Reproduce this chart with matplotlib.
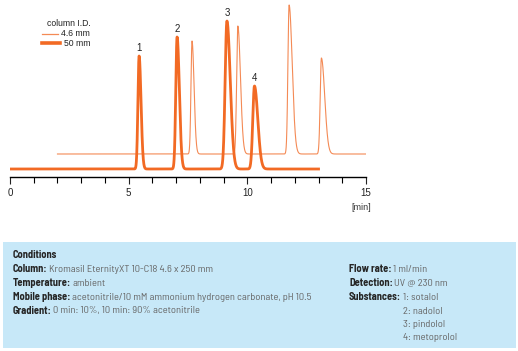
import matplotlib.pyplot as plt
import numpy as np
from matplotlib.lines import Line2D

# Chromatogram data (time in min, heights in arbitrary detector units)
# 50 mm column I.D. trace
t50_start, t50_end = 0.0, 13.0
base50 = 8
rt50 = [5.44, 7.04, 9.14, 10.30]
h50 = [113, 132, 148, 83]
sl50 = [0.050, 0.055, 0.075, 0.070]
sr50 = [0.080, 0.095, 0.140, 0.140]
labels50 = ["1", "2", "3", "4"]

# 4.6 mm column I.D. trace
t46_start, t46_end = 2.0, 15.0
base46 = 23
rt46 = [7.67, 9.60, 11.76, 13.12]
h46 = [113, 128, 149, 96]
sl46 = [0.045, 0.050, 0.050, 0.050]
sr46 = [0.085, 0.110, 0.130, 0.140]

xticks_major = [0, 5, 10, 15]

cond_left = [("Column:", "Kromasil EternityXT 10-C18 4.6 x 250 mm"),
             ("Temperature:", "ambient"),
             ("Mobile phase:", "acetonitrile/10 mM ammonium hydrogen carbonate, pH 10.5"),
             ("Gradient:", "0 min: 10%, 10 min: 90% acetonitrile")]
cond_right = [("Flow rate:", "1 ml/min"),
              ("Detection:", "UV @ 230 nm"),
              ("Substances:", "1: sotalol")]
substances_more = ["2: nadolol", "3: pindolol", "4: metoprolol"]

plt.rcParams['font.family'] = ['Liberation Sans', 'DejaVu Sans']
box_font = ['Barlow Semi Condensed', 'DejaVu Sans']

W, H = 518, 351
c_thick = "#f26a24"
c_thin = "#f48a55"


def trace(t0, t1, base, rts, hs, sls, srs):
    t = np.linspace(t0, t1, 3000)
    y = np.full_like(t, float(base))
    for rt, h, sl, sr in zip(rts, hs, sls, srs):
        s = np.where(t < rt, sl, sr)
        y += h * np.exp(-0.5 * ((t - rt) / s) ** 2)
    return t, y


def fx(px):
    return px / W


def fy(py):
    return 1 - py / H


fig = plt.figure(figsize=(W / 100, H / 100), dpi=100)
ax = fig.add_axes([fx(10), fy(177), fx(366) - fx(10), fy(3) - fy(177)])

t, y = trace(t46_start, t46_end, base46, rt46, h46, sl46, sr46)
ax.plot(t, y, color=c_thin, lw=0.8, zorder=2)
t, y = trace(t50_start, t50_end, base50, rt50, h50, sl50, sr50)
ax.plot(t, y, color=c_thick, lw=2.0, zorder=3)

for rt, h, lab in zip(rt50, h50, labels50):
    ax.text(rt, base50 + h + 3, lab, ha="center", va="bottom", fontsize=7, color="#222222")

ax.set_xlim(0, 15)
ax.set_ylim(0, 174)
for s in ["top", "right", "left"]:
    ax.spines[s].set_visible(False)
ax.spines["bottom"].set_linewidth(1.0)
ax.set_yticks([])
ax.set_xticks(xticks_major)
ax.set_xticks(np.arange(0, 16, 1), minor=True)
ax.tick_params(axis="x", which="major", length=5, width=0.8, labelsize=7, pad=3, colors="#222222")
ax.tick_params(axis="x", which="minor", length=4, width=0.8)
ax.patch.set_alpha(0)

fig.text(fx(361), fy(207), "[min]", ha="center", va="center", fontsize=6.5, color="#333333")

# legend
fig.text(fx(91), fy(24), "column I.D.", ha="right", va="center", fontsize=6.2, color="#222222")
fig.text(fx(90), fy(34), "4.6 mm", ha="right", va="center", fontsize=6.2, color="#222222")
fig.text(fx(90), fy(43), "50 mm", ha="right", va="center", fontsize=6.2, color="#222222")
fig.add_artist(Line2D([fx(42), fx(58)], [fy(34), fy(34)], color=c_thin, lw=0.9))
fig.add_artist(Line2D([fx(42), fx(60)], [fy(43), fy(43)], color=c_thick, lw=2.6))

# conditions box
fig.add_artist(plt.Rectangle((fx(3), fy(348)), fx(516) - fx(3), fy(242) - fy(348),
                             facecolor="#c7e8f8", edgecolor="none", zorder=0))

fs = 7.5
lab_kw = dict(fontsize=fs, fontweight="bold", color="#262626", va="center", ha="left", family=box_font)
val_kw = dict(fontsize=fs, color="#666666", va="center", ha="left", family=box_font)

rend = fig.canvas.get_renderer()


def cond_line(x, yy, label, value):
    tl = fig.text(fx(x), fy(yy), label, **lab_kw)
    bb = tl.get_window_extent(rend)
    fig.text(bb.x1 / W + fx(1.5), fy(yy), value, **val_kw)


fig.text(fx(13), fy(255), "Conditions", **lab_kw)
for i, (lab, val) in enumerate(cond_left):
    cond_line(13, 269 + i * 14, lab, val)

for i, (lab, val) in enumerate(cond_right):
    yy = 269 + i * 14
    if lab == "Substances:":
        fig.text(fx(349), fy(yy), lab, **lab_kw)
        fig.text(fx(403), fy(yy), val, **val_kw)
    else:
        cond_line(349, yy, lab, val)

for i, s in enumerate(substances_more):
    fig.text(fx(403), fy(311 + i * 13.5), s, **val_kw)

fig.savefig("out.png", dpi=100)
